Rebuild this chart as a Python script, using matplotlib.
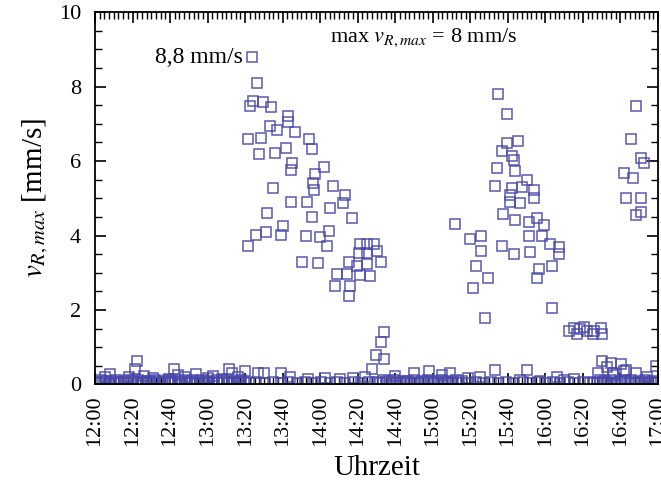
import matplotlib
matplotlib.use("Agg")
import matplotlib.pyplot as plt
from matplotlib.ticker import MultipleLocator, FuncFormatter

plt.rcParams['font.family'] = ['Liberation Serif', 'DejaVu Serif']
plt.rcParams['mathtext.fontset'] = 'stix'

# ---- data: minutes after 12:00, v_R,max in mm/s ----
burst1_t = [83.9, 86.4, 84.0, 82.6, 89.4, 93.9, 102.8, 93.0, 97.2, 102.8, 106.5, 81.7, 88.2, 114.1,
            115.4, 87.6, 95.7, 102.0, 105.2, 104.3, 122.2, 117.2, 94.8, 116.3, 116.7, 126.7, 133.0,
            132.1, 104.3, 112.7, 91.6, 115.4, 125.3, 136.9, 100.2, 85.9, 90.9, 99.3, 112.4, 119.9,
            124.9, 81.3, 123.5, 110.1, 119.0, 141.4, 145.0, 148.5, 140.5, 145.0, 150.4, 152.2, 145.0,
            139.6, 135.1, 128.9, 134.2, 141.4, 146.8, 128.0, 136.0, 135.1,
            153.8, 152.2, 149.5, 153.8, 147.8]
burst1_v = [8.78, 8.10, 7.62, 7.47, 7.58, 7.44, 7.22, 6.94, 6.84, 7.04, 6.77, 6.58, 6.61, 6.60,
            6.31, 6.18, 6.22, 6.34, 5.95, 5.77, 5.84, 5.66, 5.27, 5.42, 5.22, 5.34, 5.09,
            4.86, 4.91, 4.91, 4.61, 4.50, 4.75, 4.46, 4.25, 4.02, 4.09, 4.02, 3.98, 3.96,
            4.11, 3.73, 3.73, 3.28, 3.25, 3.78, 3.78, 3.78, 3.52, 3.52, 3.59, 3.30, 3.23,
            3.19, 3.30, 2.96, 2.96, 2.94, 2.90, 2.64, 2.64, 2.37,
            1.42, 1.15, 0.80, 0.69, 0.42]

burst2_t = [214.9, 219.4, 225.6, 219.4, 216.7, 222.0, 223.0, 214.0, 223.8, 230.1, 213.1, 222.0,
            227.4, 233.7, 221.1, 226.5, 221.1, 233.7, 217.6, 223.8, 231.0, 235.5, 239.1, 191.6,
            199.6, 205.9, 231.0, 238.2, 205.9, 216.7, 223.0, 231.9, 242.6, 247.2, 247.2, 203.2,
            209.5, 236.4, 243.5, 235.5, 201.5, 207.7, 243.5]
burst2_v = [7.81, 7.26, 6.54, 6.49, 6.27, 6.13, 6.04, 5.81, 5.72, 5.50, 5.33, 5.27,
            5.31, 5.22, 5.09, 4.86, 4.91, 5.00, 4.59, 4.41, 4.36, 4.46, 4.27, 4.32,
            3.91, 4.00, 4.00, 4.00, 3.59, 3.73, 3.50, 3.55, 3.78, 3.68, 3.50, 3.19,
            2.87, 3.10, 3.19, 2.87, 2.60, 1.78, 2.05]

cluster3_t = [252.7, 255.4, 258.6, 262.4, 266.1, 269.4, 270.4, 265.1, 257.0, 260.8]
cluster3_v = [1.44, 1.52, 1.49, 1.44, 1.44, 1.52, 1.36, 1.36, 1.36, 1.55]

burst4_t = [288.3, 285.6, 291.0, 282.1, 286.6, 291.0, 283.0, 291.0, 288.3, 292.5]
burst4_v = [7.49, 6.58, 6.09, 5.68, 5.54, 5.00, 5.00, 4.63, 4.55, 5.95]

base_t = [0.5, 1.8, 3.2, 4.5, 6.0, 7.3, 8.6, 10.0, 11.2, 12.5, 13.8, 15.2, 16.5, 17.8, 19.0, 20.4,
          21.6, 23.0, 24.3, 25.6, 27.0, 28.2, 29.5, 30.8, 32.2, 33.5, 34.8, 36.0, 37.4, 38.7, 40.0,
          41.3, 42.6, 44.0, 45.2, 46.6, 47.9, 49.2, 50.5, 51.8, 53.2, 54.5, 55.8, 57.0, 58.4, 59.7,
          61.0, 62.3, 63.6, 65.0, 66.2, 67.6, 68.9, 70.2, 71.5, 72.8, 74.1, 75.5, 76.8, 78.0, 79.4,
          5.3, 8.0, 18.0, 21.3, 22.2, 26.0, 31.0, 39.2, 41.9, 44.0, 48.0, 54.0, 60.0, 63.0, 67.7,
          71.5, 73.0, 76.0, 80.0,
          82.0, 86.0, 90.5, 95.0, 99.0, 103.0, 107.5, 112.0, 116.0, 120.5, 125.0, 129.0, 133.0,
          138.0, 142.0, 146.0, 87.0, 90.0, 99.3, 104.0, 113.6, 122.6, 130.6, 137.6, 144.0,
          150.5, 152.0, 153.5, 155.0, 156.5, 158.0, 159.5, 161.0, 162.5, 164.0, 165.5, 167.0,
          168.5, 170.0, 171.5, 173.0, 174.5, 176.0, 177.5, 179.0, 180.5, 182.0, 183.5, 185.0,
          186.5, 188.0, 189.5, 191.0, 192.5, 194.0, 195.5, 160.0, 170.0, 178.0, 185.0, 189.0,
          198.7, 205.0, 213.0, 230.0, 226.4, 237.0, 246.0, 255.0, 250.0,
          199.0, 203.0, 207.0, 211.0, 215.0, 219.0, 223.0, 228.0, 232.0, 236.0, 240.0, 244.0,
          248.0, 252.0, 256.0, 260.0, 264.0,
          266.0, 267.5, 269.0, 270.5, 272.0, 273.5, 275.0, 276.5, 278.0, 279.5, 281.0, 282.5,
          284.0, 285.5, 287.0, 288.5, 290.0, 291.5, 293.0, 294.5, 296.0, 297.5, 299.0,
          268.0, 276.0, 282.0, 288.0, 294.0, 272.6, 283.0, 299.0, 270.4, 274.7, 280.1, 275.8]
base_v = [0.08, 0.05, 0.12, 0.06, 0.10, 0.04, 0.09, 0.07, 0.12, 0.05, 0.08, 0.10, 0.04, 0.11, 0.06, 0.09,
          0.05, 0.12, 0.07, 0.04, 0.10, 0.06, 0.09, 0.05, 0.12, 0.08, 0.04, 0.10, 0.06, 0.11, 0.05,
          0.09, 0.07, 0.04, 0.12, 0.06, 0.10, 0.05, 0.08, 0.11, 0.04, 0.09, 0.06, 0.12, 0.05, 0.08,
          0.10, 0.04, 0.07, 0.11, 0.05, 0.09, 0.06, 0.12, 0.04, 0.08, 0.10, 0.05, 0.07, 0.11, 0.06,
          0.20, 0.28, 0.20, 0.41, 0.63, 0.22, 0.18, 0.16, 0.41, 0.25, 0.20, 0.28, 0.18, 0.22, 0.14,
          0.41, 0.30, 0.20, 0.35,
          0.05, 0.06, 0.04, 0.07, 0.05, 0.06, 0.04, 0.07, 0.05, 0.06, 0.04, 0.07, 0.05,
          0.06, 0.04, 0.07, 0.30, 0.30, 0.31, 0.20, 0.16, 0.18, 0.15, 0.18, 0.20,
          0.08, 0.05, 0.11, 0.06, 0.09, 0.04, 0.12, 0.07, 0.05, 0.10, 0.06, 0.09,
          0.04, 0.11, 0.07, 0.05, 0.10, 0.06, 0.12, 0.04, 0.08, 0.09, 0.05, 0.11,
          0.06, 0.10, 0.04, 0.08, 0.12, 0.05, 0.09, 0.22, 0.30, 0.35, 0.25, 0.30,
          0.17, 0.20, 0.38, 0.38, 0.12, 0.10, 0.20, 0.16, 0.12,
          0.05, 0.06, 0.04, 0.07, 0.05, 0.06, 0.04, 0.07, 0.05, 0.06, 0.04, 0.07,
          0.05, 0.06, 0.04, 0.07, 0.05,
          0.08, 0.05, 0.11, 0.06, 0.09, 0.04, 0.12, 0.07, 0.05, 0.10, 0.06, 0.09,
          0.04, 0.11, 0.07, 0.05, 0.10, 0.06, 0.12, 0.04, 0.08, 0.09, 0.05,
          0.30, 0.25, 0.35, 0.30, 0.20, 0.47, 0.38, 0.50, 0.62, 0.57, 0.54, 0.30]

xtick_minutes = list(range(0, 301, 20))

color = '#4747a8'

fig = plt.figure(figsize=(6.61, 4.92), dpi=100)
ax = fig.add_axes([0.1437, 0.2185, 0.8518, 0.7571])

mk = dict(marker='s', ls='none', ms=7.3, mfc='none', mec=color, mew=1.1, alpha=0.9)
ax.plot(base_t, base_v, **mk)
ax.plot(burst1_t, burst1_v, **mk)
ax.plot(burst2_t, burst2_v, **mk)
ax.plot(cluster3_t, cluster3_v, **mk)
ax.plot(burst4_t, burst4_v, **mk)

ax.set_xlim(0, 300)
ax.set_ylim(0, 10)

ax.set_xticks(xtick_minutes)
ax.xaxis.set_major_formatter(FuncFormatter(lambda m, p: f"{12 + int(m) // 60}:{int(m) % 60:02d}"))
ax.xaxis.set_minor_locator(MultipleLocator(2.5))
ax.yaxis.set_major_locator(MultipleLocator(2))
ax.yaxis.set_minor_locator(MultipleLocator(0.5))

ax.tick_params(which='both', direction='in', top=True, right=True, labelsize=16, color='black')
ax.tick_params(which='major', length=8, width=1.2)
ax.tick_params(which='minor', length=5, width=1.0)
ax.tick_params(axis='x', which='major', rotation=90, pad=8)
ax.tick_params(axis='y', which='major', pad=10)

for s in ax.spines.values():
    s.set_linewidth(1.3)

ax.set_xlabel('Uhrzeit', fontsize=21, labelpad=6)
ax.set_ylabel(r'$v_{R,max}$ [mm/s]', fontsize=21, labelpad=6)

ax.annotate('8,8 mm/s', xy=(burst1_t[0], burst1_v[0]), xytext=(-7, 0),
            textcoords='offset points', ha='right', va='center', fontsize=17)
ax.text(0.417, 0.93, r'max $v_{R,max}$ = 8 mm/s', transform=ax.transAxes,
        ha='left', va='center', fontsize=16)

fig.savefig('out.png', dpi=100)
